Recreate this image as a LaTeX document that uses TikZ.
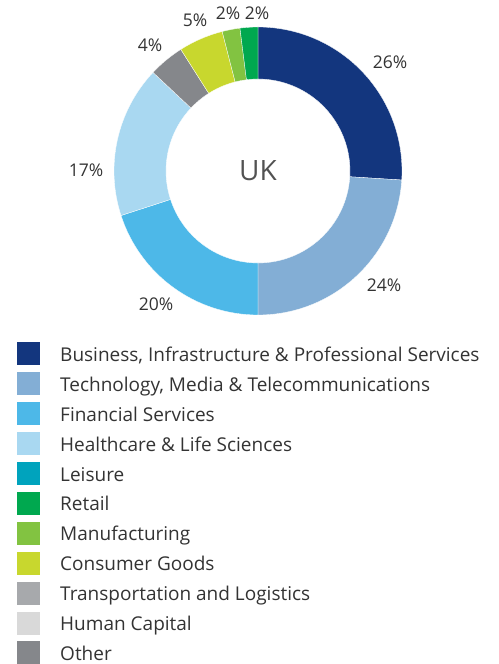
\documentclass[tikz,border=0pt]{standalone}
\usepackage{fontspec}
\setmainfont{Open Sans}
\usetikzlibrary{calc}
\definecolor{bips}{HTML}{13367E}
\definecolor{tmt}{HTML}{83AED5}
\definecolor{finserv}{HTML}{4DB8E8}
\definecolor{health}{HTML}{A9D8F1}
\definecolor{leisure}{HTML}{00A3BD}
\definecolor{retail}{HTML}{00A84F}
\definecolor{manuf}{HTML}{82C341}
\definecolor{consumer}{HTML}{C8D72E}
\definecolor{transport}{HTML}{A7A9AC}
\definecolor{humancap}{HTML}{D9D9D9}
\definecolor{other}{HTML}{85878B}
\definecolor{txt}{HTML}{333333}
\begin{document}
\begin{tikzpicture}[x=1pt,y=1pt]
\tikzstyle{pct}=[text=txt,font=\fontsize{17.5}{19}\selectfont,inner sep=0pt]
\tikzstyle{swatch}=[rectangle,minimum size=23pt,inner sep=0pt]
\tikzstyle{entry}=[text=txt,font=\fontsize{19}{21}\selectfont,anchor=base west,inner sep=0pt]
\useasboundingbox (0,0) rectangle (498,664);
\coordinate (c) at (258,493);
\foreach \a/\b/\col in {90/-3.6/bips,-3.6/-90/tmt,-90/-162/finserv,-162/-223.2/health,
  -223.2/-237.6/other,-237.6/-255.6/consumer,-255.6/-262.8/manuf,-262.8/-270/retail}
  \filldraw[fill=\col,draw=white,line width=0.3pt] ($(c)+(\a:144)$) arc[start angle=\a,end angle=\b,radius=144pt]
    -- ($(c)+(\b:92)$) arc[start angle=\b,end angle=\a,radius=92pt] -- cycle;
\node[text=txt!85,font=\fontsize{28}{30}\selectfont] (uk) at (c) {UK};
\node[pct] (p1) at (390,602) {26\%};
\node[pct] (p2) at (384,379) {24\%};
\node[pct] (p3) at (156,360) {20\%};
\node[pct] (p4) at (86,494) {17\%};
\node[pct] (p5) at (150,619) {4\%};
\node[pct] (p6) at (195,644) {5\%};
\node[pct] (p7) at (228,651) {2\%};
\node[pct] (p8) at (257,651) {2\%};
\foreach \i/\col/\name in {0/bips/{Business, Infrastructure \& Professional Services},
  1/tmt/{Technology, Media \& Telecommunications},2/finserv/{Financial Services},
  3/health/{Healthcare \& Life Sciences},4/leisure/{Leisure},5/retail/{Retail},
  6/manuf/{Manufacturing},7/consumer/{Consumer Goods},8/transport/{Transportation and Logistics},
  9/humancap/{Human Capital},10/other/{Other}}
{
  \node[swatch,fill=\col] (sw\i) at (28.5,310-29.9*\i) {};
  \node[entry] (lt\i) at (60,302.5-29.9*\i) {\name};
}
\end{tikzpicture}
\end{document}
